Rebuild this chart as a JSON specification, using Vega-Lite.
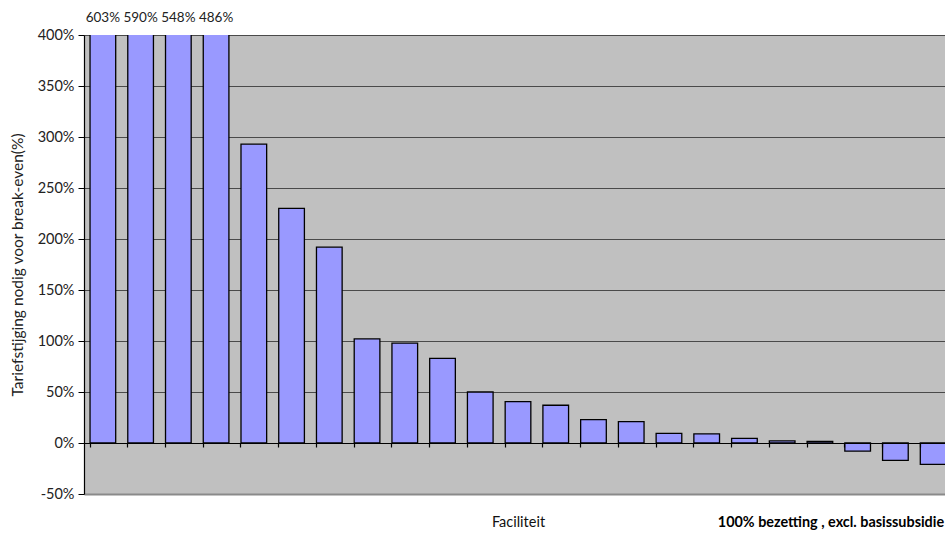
{
  "$schema": "https://vega.github.io/schema/vega-lite/v6.json",
  "width": 861,
  "height": 459,
  "autosize": {"type": "none"},
  "padding": {"left": 84, "top": 35, "right": 0, "bottom": 40},
  "background": "white",
  "config": {
    "font": "Lato",
    "view": {"fill": "#C0C0C0", "stroke": null}
  },
  "data": {
    "values": [
      {"facility": "F01", "value": 6.03},
      {"facility": "F02", "value": 5.90},
      {"facility": "F03", "value": 5.48},
      {"facility": "F04", "value": 4.86},
      {"facility": "F05", "value": 2.93},
      {"facility": "F06", "value": 2.30},
      {"facility": "F07", "value": 1.92},
      {"facility": "F08", "value": 1.02},
      {"facility": "F09", "value": 0.98},
      {"facility": "F10", "value": 0.83},
      {"facility": "F11", "value": 0.50},
      {"facility": "F12", "value": 0.405},
      {"facility": "F13", "value": 0.37},
      {"facility": "F14", "value": 0.23},
      {"facility": "F15", "value": 0.21},
      {"facility": "F16", "value": 0.095},
      {"facility": "F17", "value": 0.09},
      {"facility": "F18", "value": 0.045},
      {"facility": "F19", "value": 0.02},
      {"facility": "F20", "value": 0.015},
      {"facility": "F21", "value": -0.08},
      {"facility": "F22", "value": -0.17},
      {"facility": "F23", "value": -0.21}
    ]
  },
  "encoding": {
    "x": {
      "field": "facility",
      "type": "nominal",
      "sort": null,
      "scale": {"range": [0, 868], "paddingInner": 0.32, "paddingOuter": 0.16},
      "axis": {
        "orient": "bottom",
        "offset": -51,
        "labels": false,
        "bandPosition": 0,
        "tickSize": 4,
        "tickColor": "#000000",
        "tickWidth": 1.2,
        "domainColor": "#000000",
        "domainWidth": 1.2,
        "zindex": 1,
        "title": "Faciliteit",
        "titleFont": "Lato",
        "titleFontSize": 14.5,
        "titleFontWeight": "normal",
        "titleColor": "#111111",
        "titlePadding": 68
      }
    }
  },
  "layer": [
    {
      "mark": {"type": "bar", "clip": true, "fill": "#9999FF", "stroke": "#000000", "strokeWidth": 1.3},
      "encoding": {
        "y": {
          "field": "value",
          "type": "quantitative",
          "scale": {"domain": [-0.5, 4], "nice": false, "zero": false},
          "axis": {
            "values": [-0.5, 0, 0.5, 1, 1.5, 2, 2.5, 3, 3.5, 4],
            "format": ".0%",
            "labelExpr": "replace(datum.label, '\u2212', '-')",
            "grid": true,
            "gridColor": {"condition": {"test": "datum.value === -0.5", "value": "#8a8a8a"}, "value": "#4a4a4a"},
            "gridWidth": {"condition": {"test": "datum.value === -0.5", "value": 2}, "value": 1.2},
            "domainColor": "#000000",
            "domainWidth": 1.2,
            "tickColor": "#000000",
            "tickSize": 6,
            "labelFontSize": 14.5,
            "labelColor": "#222222",
            "labelPadding": 4,
            "title": "Tariefstijging nodig voor break-even(%)",
            "titleFontSize": 15.5,
            "titleFontWeight": "normal",
            "titleColor": "#222222",
            "titlePadding": 12
          }
        }
      }
    },
    {
      "transform": [{"filter": "datum.value > 4"}],
      "mark": {"type": "text", "clip": false, "baseline": "alphabetic", "dy": -13, "fontSize": 13.5, "color": "#222222"},
      "encoding": {
        "y": {"datum": 4},
        "text": {"field": "value", "type": "quantitative", "format": ".0%"}
      }
    },
    {
      "data": {"values": [{"facility": "F23", "note": "100% bezetting , excl. basissubsidie"}]},
      "mark": {"type": "text", "clip": false, "align": "right", "baseline": "middle", "dx": 11, "dy": 29, "fontSize": 14.4, "fontWeight": "bold", "color": "#000000"},
      "encoding": {
        "y": {"datum": -0.5},
        "text": {"field": "note", "type": "nominal"}
      }
    }
  ]
}
